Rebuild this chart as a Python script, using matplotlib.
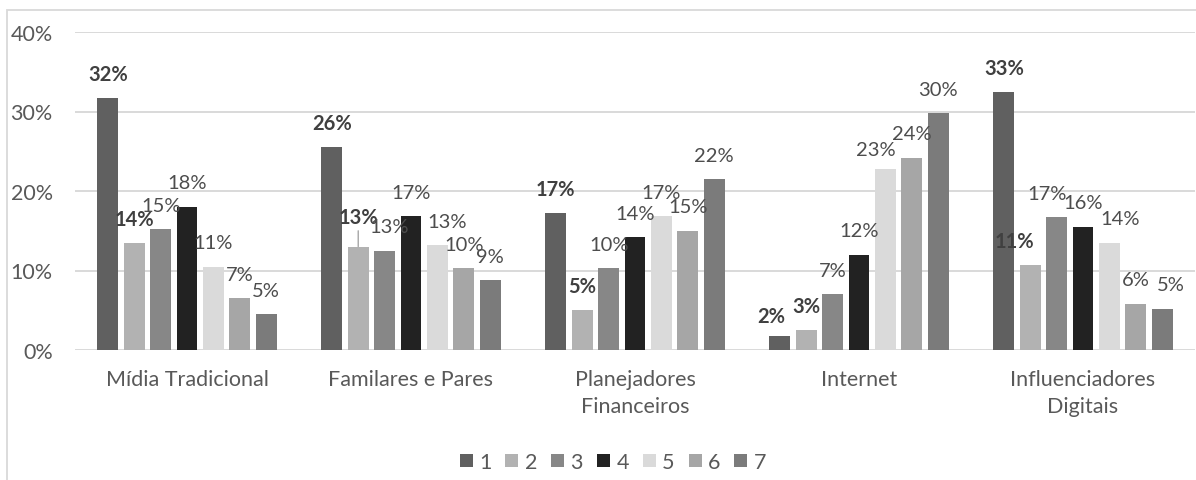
import matplotlib
matplotlib.use("Agg")
import matplotlib.pyplot as plt
import numpy as np
from matplotlib.patches import Rectangle
from matplotlib.ticker import FuncFormatter

plt.rcParams['font.family'] = ['Lato', 'DejaVu Sans']

# ---- data ----
categories = ["Mídia Tradicional", "Familares e Pares", "Planejadores\nFinanceiros",
              "Internet", "Influenciadores\nDigitais"]
series_names = ["1", "2", "3", "4", "5", "6", "7"]
s1 = [31.7, 25.5, 17.2, 1.7, 32.5]
s2 = [13.5, 13.0, 5.0, 2.5, 10.7]
s3 = [15.2, 12.5, 10.3, 7.0, 16.7]
s4 = [18.0, 16.8, 14.2, 12.0, 15.5]
s5 = [10.5, 13.2, 16.8, 22.8, 13.5]
s6 = [6.5, 10.3, 15.0, 24.2, 5.8]
s7 = [4.5, 8.8, 21.5, 29.8, 5.2]
series = [s1, s2, s3, s4, s5, s6, s7]
yticks = [0, 10, 20, 30, 40]

colors = ["#606060", "#b2b2b2", "#878787", "#222222", "#dadada", "#a6a6a6", "#7b7b7b"]
bold_series = {0, 1}
# manual label nudges (pixels), (category, series): (dx, dy)
nudges = {(3, 0): (-9, -4), (3, 4): (-10, -5), (4, 1): (-16, 0), (4, 2): (-10, 0),
          (4, 4): (11, 0), (4, 6): (9, 0), (1, 2): (4, 0), (1, 4): (10, 0)}

fig = plt.figure(figsize=(11.96, 4.81), dpi=100)
W, H = 1196, 481
ax = fig.add_axes([75 / W, (H - 351) / H, 1120 / W, 318 / H])

# outer frame (partially cropped)
fig.patches.append(Rectangle((7 / W, -0.1), 1.2, (H - 11) / H + 0.1, transform=fig.transFigure,
                             fill=False, edgecolor="#d9d9d9", linewidth=1.3, zorder=0))

x = np.arange(len(categories))
step = 0.1178
width = 0.0924
LBL = 14.5
PT = 0.72  # points per pixel at dpi 100
for j, vals in enumerate(series):
    xs = x + (j - 3) * step
    ax.bar(xs, vals, width=width, color=colors[j], label=series_names[j], zorder=3)
    for i, v in enumerate(vals):
        lab = f"{int(v + 0.5)}%"
        bold = j in bold_series
        fw = "bold" if bold else "normal"
        col = "#404040" if bold else "#4d4d4d"
        dx, dy = nudges.get((i, j), (0, 0))
        if (i, j) == (1, 1):
            ax.annotate(lab, xy=(xs[i], v), xytext=(0, 30 * PT), textcoords="offset points",
                        ha="center", va="center", fontsize=LBL, fontweight=fw,
                        color=col, zorder=4,
                        arrowprops=dict(arrowstyle="-", color="#a6a6a6", lw=1,
                                        shrinkA=1, shrinkB=0))
        else:
            ax.annotate(lab, xy=(xs[i], v), xytext=(dx * PT, (24 + dy) * PT),
                        textcoords="offset points",
                        ha="center", va="center", fontsize=LBL, fontweight=fw,
                        color=col, zorder=4)

ax.set_xlim(-0.5, len(categories) - 0.5)
ax.set_ylim(0, 40)
ax.set_yticks(yticks)
ax.yaxis.set_major_formatter(FuncFormatter(lambda v, p: f"{int(v)}%"))
ax.set_xticks(x)
ax.set_xticklabels(categories, fontsize=15.5, color="#595959", linespacing=1.4)
for t in ax.get_yticklabels():
    t.set_fontsize(15.5)
    t.set_color("#595959")
ax.tick_params(axis="y", length=0, pad=16)
ax.tick_params(axis="x", length=0, pad=14)
ax.yaxis.grid(True, color="#d9d9d9", linewidth=1.4, zorder=0)
ax.set_axisbelow(True)
for s in ax.spines.values():
    s.set_visible(False)
ax.set_facecolor("white")

leg = fig.legend(loc="center", bbox_to_anchor=(613 / W, (H - 463) / H), ncol=7,
                 frameon=False, fontsize=15.5, handlelength=0.6, handleheight=0.6,
                 handletextpad=0.3, columnspacing=0.65, borderaxespad=0)
for t in leg.get_texts():
    t.set_color("#595959")

fig.savefig("out.png", dpi=100, facecolor="white")
